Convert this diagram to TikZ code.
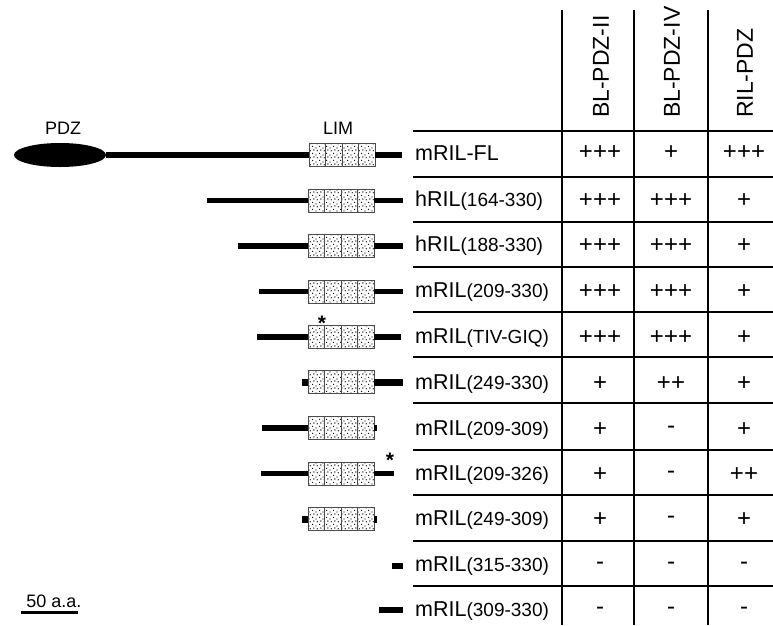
\documentclass[tikz,border=0pt]{standalone}
\usepackage{fontspec}
\setmainfont{Liberation Sans}
\usetikzlibrary{patterns,calc,shapes.geometric}
\pgfdeclarepatternformonly{sparsedots}{\pgfqpoint{-1pt}{-1pt}}{\pgfqpoint{8pt}{8pt}}{\pgfqpoint{7pt}{7pt}}{%
  \pgfpathcircle{\pgfqpoint{1pt}{1pt}}{0.7pt}%
  \pgfpathcircle{\pgfqpoint{4.6pt}{2.6pt}}{0.7pt}%
  \pgfpathcircle{\pgfqpoint{2.2pt}{5.2pt}}{0.7pt}%
  \pgfpathcircle{\pgfqpoint{5.8pt}{6.0pt}}{0.7pt}%
  \pgfusepath{fill}}
\begin{document}
\begin{tikzpicture}[x=1pt,y=-1pt,
  limbox/.style={draw=black!70,line width=0.8pt,pattern=sparsedots,minimum width=66pt,minimum height=23pt,inner sep=0pt,
    path picture={\foreach \f in {0.25,0.5,0.75}{\draw[black!70,line width=0.7pt] ($(path picture bounding box.north west)!\f!(path picture bounding box.north east)$) -- ($(path picture bounding box.south west)!\f!(path picture bounding box.south east)$);}}},
  arm/.style={line width=5.5pt},
  stub/.style={fill=black,draw=none},
  grid/.style={line width=1.5pt},
  lbl/.style={anchor=west,inner sep=0pt,font=\fontsize{21.5}{24}\selectfont},
  val/.style={inner sep=0pt,font=\fontsize{24}{26}\selectfont},
  hdr/.style={anchor=west,rotate=90,inner sep=0pt,font=\fontsize{23}{26}\selectfont},
  dom/.style={inner sep=0pt,font=\fontsize{18}{20}\selectfont},
  star/.style={inner sep=0pt,font=\fontsize{21}{22}\selectfont\bfseries}]
\useasboundingbox (0,0) rectangle (773,625);
% table grid
\foreach \x/\n in {562/c1,634/c2,708/c3}{
  \coordinate (\n t) at (\x,10);
  \coordinate (\n b) at (\x,625);
  \draw[grid] (\n t) -- (\n b);
}
\foreach \y/\n in {131/h0,177/h1,222/h2,267/h3,312/h4,357/h5,403/h6,450/h7,495/h8,541/h9,586/h10}{
  \coordinate (\n l) at (413,\y);
  \coordinate (\n r) at (773,\y);
  \draw[grid] (\n l) -- (\n r);
}
% headers
\node[hdr] (hd1) at (601,118) {BL-PDZ-II};
\node[hdr] (hd2) at (672,118) {BL-PDZ-IV};
\node[hdr] (hd3) at (745,118) {RIL-PDZ};
% labels and values
\foreach \i/\y/\m/\p/\a/\b/\c in {
  1/153/mRIL-FL//+++/+/+++,
  2/201/hRIL/(164-330)/+++/+++/+,
  3/246/hRIL/(188-330)/+++/+++/+,
  4/292/mRIL/(209-330)/+++/+++/+,
  5/338/mRIL/(TIV-GIQ)/+++/+++/+,
  6/384/mRIL/(249-330)/+/++/+,
  7/430/mRIL/(209-309)/+/-/+,
  8/475/mRIL/(209-326)/+/-/++,
  9/520/mRIL/(249-309)/+/-/+,
  10/566/mRIL/(315-330)/-/-/-,
  11/611/mRIL/(309-330)/-/-/-}{
  \node[lbl] (lab\i) at (415,\y) {\m{\fontsize{19}{21}\selectfont\p}};
  \node[val] (va\i) at (600,\y) {\a};
  \node[val] (vb\i) at (671,\y) {\b};
  \node[val] (vc\i) at (744,\y) {\c};
}
% row 1: full length
\node[ellipse,fill=black,minimum width=92pt,minimum height=24pt,inner sep=0pt] (pdz) at (60,155) {};
\node[dom] (pdzl) at (63,128) {PDZ};
\node[limbox] (b1) at (342,155) {};
\node[dom] (liml) at (338,128) {LIM};
\coordinate (r1) at (402,155);
\draw[arm] (pdz.east) -- (b1.west);
\draw[arm] (b1.east) -- (r1);
% row 2
\node[limbox] (b2) at (341,200.5) {};
\coordinate (l2) at (207,200.5); \coordinate (r2) at (403,200.5);
\draw[arm] (l2) -- (b2.west); \draw[arm] (b2.east) -- (r2);
% row 3
\node[limbox] (b3) at (341,246) {};
\coordinate (l3) at (238,246); \coordinate (r3) at (403,246);
\draw[arm] (l3) -- (b3.west); \draw[arm] (b3.east) -- (r3);
% row 4
\node[limbox] (b4) at (341,291.5) {};
\coordinate (l4) at (259,291.5); \coordinate (r4) at (403,291.5);
\draw[arm] (l4) -- (b4.west); \draw[arm] (b4.east) -- (r4);
% row 5
\node[limbox] (b5) at (341,337) {};
\coordinate (l5) at (257,337); \coordinate (r5) at (401,337);
\draw[arm] (l5) -- (b5.west); \draw[arm] (b5.east) -- (r5);
\node[star] (s5) at (322,323) {*};
% row 6
\node[limbox] (b6) at (341,382) {};
\coordinate (l6) at (302,382); \coordinate (r6) at (403,382);
\draw[line width=7pt] (l6) -- (b6.west); \draw[line width=7pt] (b6.east) -- (r6);
% row 7
\node[limbox] (b7) at (341,428) {};
\coordinate (l7) at (262,428); \coordinate (r7) at (377,428);
\draw[arm] (l7) -- (b7.west); \draw[arm] (b7.east) -- (r7);
% row 8
\node[limbox] (b8) at (341,473.5) {};
\coordinate (l8) at (261,473.5); \coordinate (r8) at (394,473.5);
\draw[arm] (l8) -- (b8.west); \draw[arm] (b8.east) -- (r8);
\node[star] (s8) at (390,460) {*};
% row 9
\node[limbox] (b9) at (341,519) {};
\coordinate (l9) at (302,519); \coordinate (r9) at (377,519);
\draw[line width=7pt] (l9) -- (b9.west); \draw[line width=7pt] (b9.east) -- (r9);
% rows 10, 11
\node[stub,minimum width=11pt,minimum height=6pt,inner sep=0pt] (p10) at (397.5,565.5) {};
\node[stub,minimum width=24pt,minimum height=6pt,inner sep=0pt] (p11) at (391,610) {};
% scale bar
\node[dom,font=\fontsize{18}{20}\selectfont] (scl) at (54,601) {50 a.a.};
\coordinate (sb1) at (21,612); \coordinate (sb2) at (78,612);
\draw[line width=3pt] (sb1) -- (sb2);
\end{tikzpicture}
\end{document}
